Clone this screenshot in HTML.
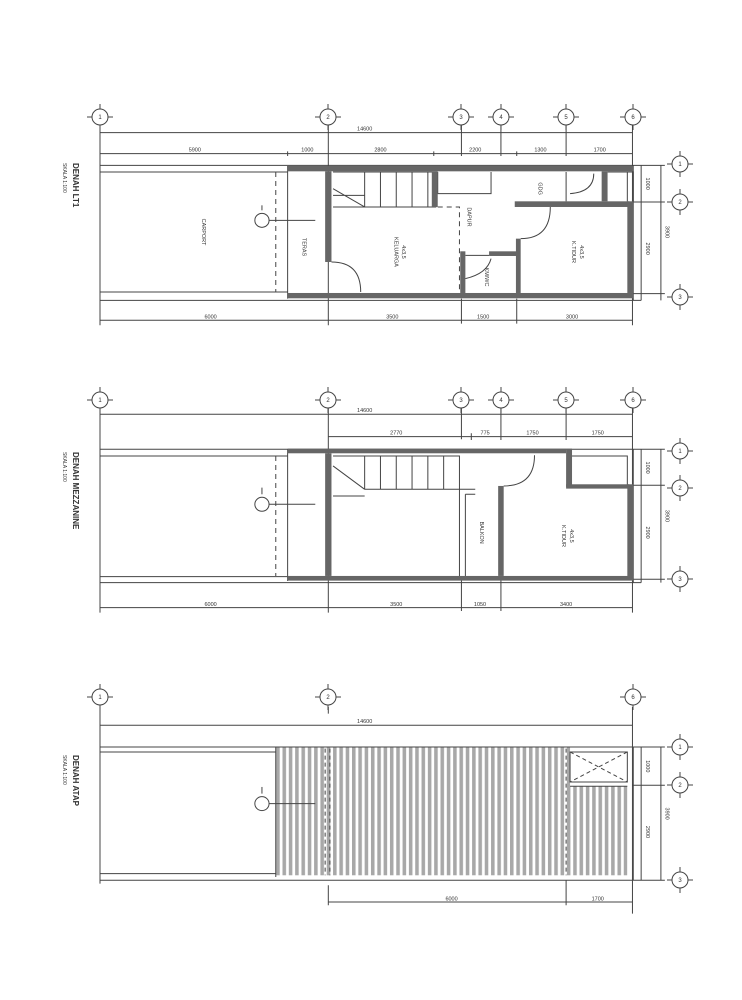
<!DOCTYPE html>
<html><head><meta charset="utf-8"><style>
html,body{margin:0;padding:0;background:#fff;}
svg{display:block;}
text{font-family:"Liberation Sans",sans-serif;fill:#333;}
.t{font-size:5.5px;}
</style></head><body>
<svg width="742" height="1000" viewBox="0 0 742 1000" xmlns="http://www.w3.org/2000/svg">
<defs>
<pattern id="st" patternUnits="userSpaceOnUse" width="16" height="10"><rect x="0" y="0" width="9" height="10" fill="#a8a8a8"/></pattern>
<g id="bub"><circle r="8" fill="#fff" stroke="#444" stroke-width="1"/><line x1="0" y1="-13" x2="0" y2="-8" stroke="#444"/><line x1="0" y1="8" x2="0" y2="13" stroke="#444"/><line x1="-13" y1="0" x2="-8" y2="0" stroke="#444"/><line x1="8" y1="0" x2="13" y2="0" stroke="#444"/></g>
</defs>
<g stroke="#444" fill="none">
<!-- ============ TOP PLAN ============ -->
<g transform="translate(80.25,92) scale(0.395,0.3333)">
<path style="vector-effect:non-scaling-stroke" d="M50,95V700 M628,95V700 M1398,95V700 M965,95V192 M1065,95V192 M1230,95V192 M50,122H1398 M50,185H1398 M525,178V192 M895,178V192 M1105,178V192 M1230,178V192 M628,178V192 M50,685H1398 M965,620V695 M1105,620V695 M628,675V695"/>
<path style="vector-effect:non-scaling-stroke" d="M50,220H1400 M50,240H525 M50,600H525 M50,625H1420 M1400,220V625 M525,222V620 M1398,220H1480 M1398,330H1480 M1398,605H1480 M1420,220V625 M1470,220V625"/>
<path style="vector-effect:non-scaling-stroke" stroke-dasharray="5,4" d="M495,240V600 M905,345H960V600"/>
<path style="vector-effect:non-scaling-stroke" d="M640,240H900V345H640 M720,240V345 M760,240V345 M800,240V345 M840,240V345 M880,240V345 M640,290L720,345 M640,310H720 M905,240V305H1040V240 M975,490H1035 M1230,240V328 M1335,240H1400V328 M1400,240H1385V328 M460,385H595"/>
<path style="vector-effect:non-scaling-stroke" d="M710,600Q710,510 636,510 M1115,440Q1190,440 1190,345 M975,560Q1030,545 1040,500 M1240,305Q1300,300 1300,245"/>
<ellipse style="vector-effect:non-scaling-stroke" cx="460" cy="385" rx="18" ry="21" fill="#fff"/>
<path style="vector-effect:non-scaling-stroke" d="M460,355V340"/>
<g fill="#666" stroke="none">
<rect x="525" y="222" width="875" height="16"/>
<rect x="525" y="603" width="875" height="16"/>
<rect x="620" y="238" width="16" height="272"/>
<rect x="890" y="238" width="15" height="107"/>
<rect x="962" y="478" width="13" height="125"/>
<rect x="1035" y="478" width="70" height="14"/>
<rect x="1103" y="440" width="12" height="163"/>
<rect x="1100" y="328" width="290" height="17"/>
<rect x="1385" y="328" width="15" height="275"/>
<rect x="1320" y="238" width="15" height="90"/>
</g>
<g stroke="none">
<text transform="translate(290,178) scale(2.53,3)" text-anchor="middle" class="t">5900</text>
<text transform="translate(575,178) scale(2.53,3)" text-anchor="middle" class="t">1000</text>
<text transform="translate(760,178) scale(2.53,3)" text-anchor="middle" class="t">2800</text>
<text transform="translate(1000,178) scale(2.53,3)" text-anchor="middle" class="t">2200</text>
<text transform="translate(1165,178) scale(2.53,3)" text-anchor="middle" class="t">1300</text>
<text transform="translate(1315,178) scale(2.53,3)" text-anchor="middle" class="t">1700</text>
<text transform="translate(720,115) scale(2.53,3)" text-anchor="middle" class="t">14600</text>
<text transform="translate(330,680) scale(2.53,3)" text-anchor="middle" class="t">6000</text>
<text transform="translate(790,680) scale(2.53,3)" text-anchor="middle" class="t">3500</text>
<text transform="translate(1020,680) scale(2.53,3)" text-anchor="middle" class="t">1500</text>
<text transform="translate(1245,680) scale(2.53,3)" text-anchor="middle" class="t">3000</text>
<text transform="translate(1432,275) scale(2.53,3) rotate(90)" text-anchor="middle" class="t">1000</text>
<text transform="translate(1432,470) scale(2.53,3) rotate(90)" text-anchor="middle" class="t">2900</text>
<text transform="translate(1482,420) scale(2.53,3) rotate(90)" text-anchor="middle" class="t">3900</text>
<text transform="translate(308,420) scale(2.53,3) rotate(90)" text-anchor="middle" class="t">CARPORT</text>
<text transform="translate(563,465) scale(2.53,3) rotate(90)" text-anchor="middle" class="t">TERAS</text>
<text transform="translate(795,480) scale(2.53,3) rotate(90)" text-anchor="middle" class="t">KELUARGA</text>
<text transform="translate(815,480) scale(2.53,3) rotate(90)" text-anchor="middle" class="t">4x3,5</text>
<text transform="translate(980,375) scale(2.53,3) rotate(90)" text-anchor="middle" class="t">DAPUR</text>
<text transform="translate(1025,555) scale(2.53,3) rotate(90)" text-anchor="middle" class="t">KM/WC</text>
<text transform="translate(1160,290) scale(2.53,3) rotate(90)" text-anchor="middle" class="t">GDG</text>
<text transform="translate(1245,480) scale(2.53,3) rotate(90)" text-anchor="middle" class="t">K.TIDUR</text>
<text transform="translate(1265,480) scale(2.53,3) rotate(90)" text-anchor="middle" class="t">4x3,5</text>
</g>
</g>

<!-- ============ MIDDLE PLAN ============ -->
<g transform="translate(80.25,379.3) scale(0.395,0.3333)">
<path style="vector-effect:non-scaling-stroke" d="M50,80V700 M628,80V700 M1398,80V700 M965,80V180 M1065,80V180 M1230,80V180 M50,105H1398 M628,172H1398 M628,162V182 M990,162V182 M1065,162V182 M1230,162V182 M50,685H1398 M965,600V695 M1065,600V695 M628,675V695"/>
<path style="vector-effect:non-scaling-stroke" d="M50,210H1400 M50,230H525 M50,592H525 M50,610H1420 M1400,210V610 M525,210V605 M1398,210H1480 M1398,318H1480 M1398,600H1480 M1420,210V610 M1470,210V610 M1245,230H1385V318"/>
<path style="vector-effect:non-scaling-stroke" stroke-dasharray="5,4" d="M495,230V590"/>
<path style="vector-effect:non-scaling-stroke" d="M640,230H960V330H720 M640,350H720 M720,230V330 M760,230V330 M800,230V330 M840,230V330 M880,230V330 M920,230V330 M640,260L720,330 M960,330H1000 M960,330V590 M975,345V590 M975,345H1000 M460,375H595 M1072,320Q1150,320 1150,228"/>
<ellipse style="vector-effect:non-scaling-stroke" cx="460" cy="375" rx="18" ry="21" fill="#fff"/>
<path style="vector-effect:non-scaling-stroke" d="M460,345V325"/>
<g fill="#666" stroke="none">
<rect x="525" y="208" width="705" height="14"/>
<rect x="1230" y="208" width="15" height="115"/>
<rect x="1230" y="315" width="160" height="13"/>
<rect x="1385" y="315" width="15" height="288"/>
<rect x="525" y="590" width="875" height="14"/>
<rect x="620" y="222" width="16" height="368"/>
<rect x="1058" y="320" width="14" height="270"/>
</g>
<g stroke="none">
<text transform="translate(720,98) scale(2.53,3)" text-anchor="middle" class="t">14600</text>
<text transform="translate(800,165) scale(2.53,3)" text-anchor="middle" class="t">2770</text>
<text transform="translate(1025,165) scale(2.53,3)" text-anchor="middle" class="t">775</text>
<text transform="translate(1145,165) scale(2.53,3)" text-anchor="middle" class="t">1750</text>
<text transform="translate(1310,165) scale(2.53,3)" text-anchor="middle" class="t">1750</text>
<text transform="translate(330,680) scale(2.53,3)" text-anchor="middle" class="t">6000</text>
<text transform="translate(800,680) scale(2.53,3)" text-anchor="middle" class="t">3500</text>
<text transform="translate(1012,680) scale(2.53,3)" text-anchor="middle" class="t">1050</text>
<text transform="translate(1230,680) scale(2.53,3)" text-anchor="middle" class="t">3400</text>
<text transform="translate(1432,265) scale(2.53,3) rotate(90)" text-anchor="middle" class="t">1000</text>
<text transform="translate(1432,460) scale(2.53,3) rotate(90)" text-anchor="middle" class="t">2900</text>
<text transform="translate(1482,410) scale(2.53,3) rotate(90)" text-anchor="middle" class="t">3900</text>
<text transform="translate(1012,460) scale(2.53,3) rotate(90)" text-anchor="middle" class="t">BALKON</text>
<text transform="translate(1220,470) scale(2.53,3) rotate(90)" text-anchor="middle" class="t">K.TIDUR</text>
<text transform="translate(1240,470) scale(2.53,3) rotate(90)" text-anchor="middle" class="t">4x3,5</text>
</g>
</g>

<!-- ============ BOTTOM PLAN ============ -->
<g transform="translate(80.25,680.3) scale(0.395,0.3333)">
<rect x="495" y="200" width="745" height="385" fill="url(#st)" stroke="none"/>
<rect x="1240" y="318" width="145" height="267" fill="url(#st)" stroke="none"/>
<path style="vector-effect:non-scaling-stroke" d="M50,80V610 M628,80V100 M1398,80V700 M50,135H1398 M50,125V145 M1398,125V145 M628,665H1398 M628,615V675 M1230,600V675"/>
<path style="vector-effect:non-scaling-stroke" d="M50,200H1400 M50,215H495 M50,580H495 M50,600H1420 M1400,200V600 M495,200V590 M1398,200H1480 M1398,315H1480 M1398,600H1480 M1420,200V600 M1470,200V600 M1240,215H1385V305H1240Z M1240,318H1385 M460,370H595"/>
<path style="vector-effect:non-scaling-stroke" stroke-dasharray="4,3" d="M620,205V585 M632,205V585 M1230,205V585 M1240,215L1385,305 M1385,215L1240,305"/>
<ellipse style="vector-effect:non-scaling-stroke" cx="460" cy="370" rx="18" ry="21" fill="#fff"/>
<path style="vector-effect:non-scaling-stroke" d="M460,340V320"/>
<g stroke="none">
<text transform="translate(720,128) scale(2.53,3)" text-anchor="middle" class="t">14600</text>
<text transform="translate(940,660) scale(2.53,3)" text-anchor="middle" class="t">6000</text>
<text transform="translate(1310,660) scale(2.53,3)" text-anchor="middle" class="t">1700</text>
<text transform="translate(1432,258) scale(2.53,3) rotate(90)" text-anchor="middle" class="t">1000</text>
<text transform="translate(1432,455) scale(2.53,3) rotate(90)" text-anchor="middle" class="t">2900</text>
<text transform="translate(1482,400) scale(2.53,3) rotate(90)" text-anchor="middle" class="t">3900</text>
</g>
</g>
</g>

<!-- bubbles -->
<g font-size="6" text-anchor="middle">
<use href="#bub" x="100" y="117"/><use href="#bub" x="328" y="117"/><use href="#bub" x="461" y="117"/><use href="#bub" x="501" y="117"/><use href="#bub" x="566" y="117"/><use href="#bub" x="633" y="117"/>
<use href="#bub" x="680" y="164"/><use href="#bub" x="680" y="202"/><use href="#bub" x="680" y="297"/>
<use href="#bub" x="100" y="400"/><use href="#bub" x="328" y="400"/><use href="#bub" x="461" y="400"/><use href="#bub" x="501" y="400"/><use href="#bub" x="566" y="400"/><use href="#bub" x="633" y="400"/>
<use href="#bub" x="680" y="451"/><use href="#bub" x="680" y="488"/><use href="#bub" x="680" y="579"/>
<use href="#bub" x="100" y="697"/><use href="#bub" x="328" y="697"/><use href="#bub" x="633" y="697"/>
<use href="#bub" x="680" y="747"/><use href="#bub" x="680" y="785"/><use href="#bub" x="680" y="880"/>
<text x="100" y="119">1</text><text x="328" y="119">2</text><text x="461" y="119">3</text><text x="501" y="119">4</text><text x="566" y="119">5</text><text x="633" y="119">6</text>
<text x="100" y="402">1</text><text x="328" y="402">2</text><text x="461" y="402">3</text><text x="501" y="402">4</text><text x="566" y="402">5</text><text x="633" y="402">6</text>
<text x="100" y="699">1</text><text x="328" y="699">2</text><text x="633" y="699">6</text>
<text x="680" y="166">1</text><text x="680" y="204">2</text><text x="680" y="299">3</text>
<text x="680" y="453">1</text><text x="680" y="490">2</text><text x="680" y="581">3</text>
<text x="680" y="749">1</text><text x="680" y="787">2</text><text x="680" y="882">3</text>
</g>

<!-- titles -->
<g>
<text transform="translate(73,163) rotate(90)" font-size="8" font-weight="bold">DENAH LT1</text>
<text transform="translate(63,163) rotate(90)" font-size="5">SKALA 1:100</text>
<text transform="translate(73,452) rotate(90)" font-size="8" font-weight="bold">DENAH MEZZANINE</text>
<text transform="translate(63,452) rotate(90)" font-size="5">SKALA 1:100</text>
<text transform="translate(73,755) rotate(90)" font-size="8" font-weight="bold">DENAH ATAP</text>
<text transform="translate(63,755) rotate(90)" font-size="5">SKALA 1:100</text>
</g>
</svg>
</body></html>
